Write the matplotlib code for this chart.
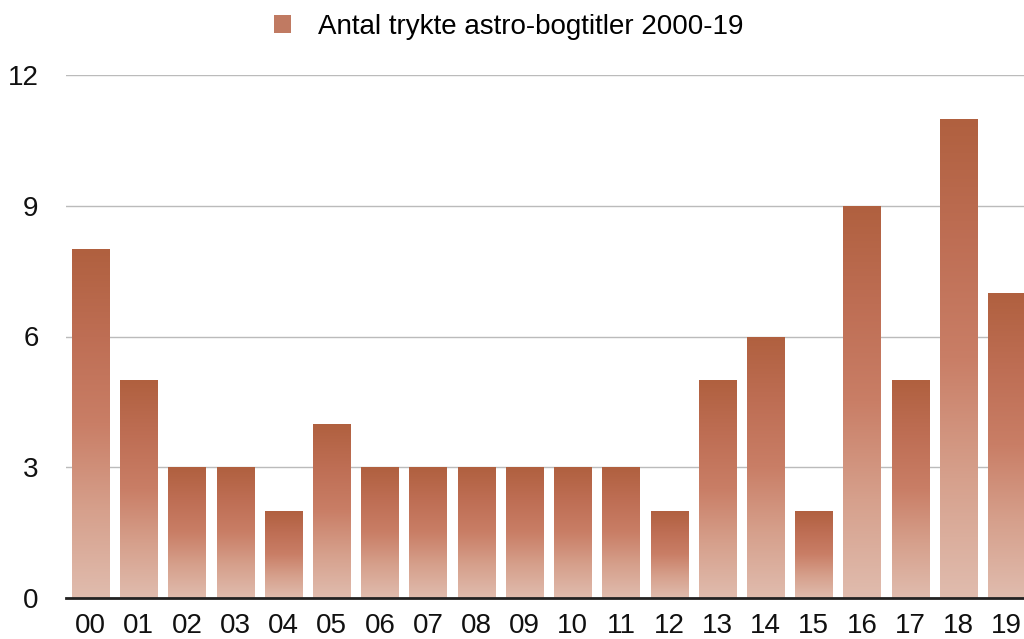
import matplotlib
matplotlib.use("Agg")
import matplotlib.pyplot as plt
import numpy as np
from matplotlib.colors import LinearSegmentedColormap
from matplotlib.patches import Patch

categories = ["00", "01", "02", "03", "04", "05", "06", "07", "08", "09",
              "10", "11", "12", "13", "14", "15", "16", "17", "18", "19"]
values = [8, 5, 3, 3, 2, 4, 3, 3, 3, 3, 3, 3, 2, 5, 6, 2, 9, 5, 11, 7]
series_label = "Antal trykte astro-bogtitler 2000-19"
yticks = [0, 3, 6, 9, 12]

plt.rcParams['font.family'] = ['Liberation Sans', 'DejaVu Sans']

fig = plt.figure(figsize=(10.24, 6.39), dpi=100)
# axes extends slightly beyond the right figure edge as in the reference
ax = fig.add_axes([66.4/1024, 1 - 598/639, (1030.8 - 66.4)/1024, (598 - 75)/639])

x = np.arange(len(categories))
bars = ax.bar(x, values, width=0.77, color="none", edgecolor="none", zorder=3)

cmap = LinearSegmentedColormap.from_list(
    "brown", ["#e0bcae", "#d6a08c", "#c97e66", "#be6e54", "#b0603f"])
grad = np.linspace(0, 1, 256).reshape(-1, 1)
for b in bars:
    x0, w, h = b.get_x(), b.get_width(), b.get_height()
    im = ax.imshow(grad, cmap=cmap, origin="lower", aspect="auto",
                   extent=(x0, x0 + w, 0, h), zorder=3, interpolation="bilinear")
    im.set_clip_path(b)

ax.set_xlim(-0.5, len(categories) - 0.5)
ax.set_ylim(0, 12)
ax.set_yticks(yticks)
ax.set_xticks(x)
ax.set_xticklabels(categories)
ax.tick_params(axis="both", length=0, labelsize=20, colors="#111111")
ax.tick_params(axis="y", pad=20)
ax.tick_params(axis="x", pad=11)
ax.grid(axis="y", color="#bbbbbb", linewidth=1, zorder=0)
ax.set_axisbelow(True)
for s in ["top", "right", "left"]:
    ax.spines[s].set_visible(False)
ax.spines["bottom"].set_color("#222222")
ax.spines["bottom"].set_linewidth(2)
ax.spines["bottom"].set_zorder(4)

handle = Patch(facecolor="#c07a62", edgecolor="none")
fig.legend([handle], [series_label], loc="center", bbox_to_anchor=(509/1024, 1 - 27/639),
           frameon=False, fontsize=20, handlelength=0.6, handleheight=0.6,
           handletextpad=1.0)

fig.savefig("out.png", dpi=100)
